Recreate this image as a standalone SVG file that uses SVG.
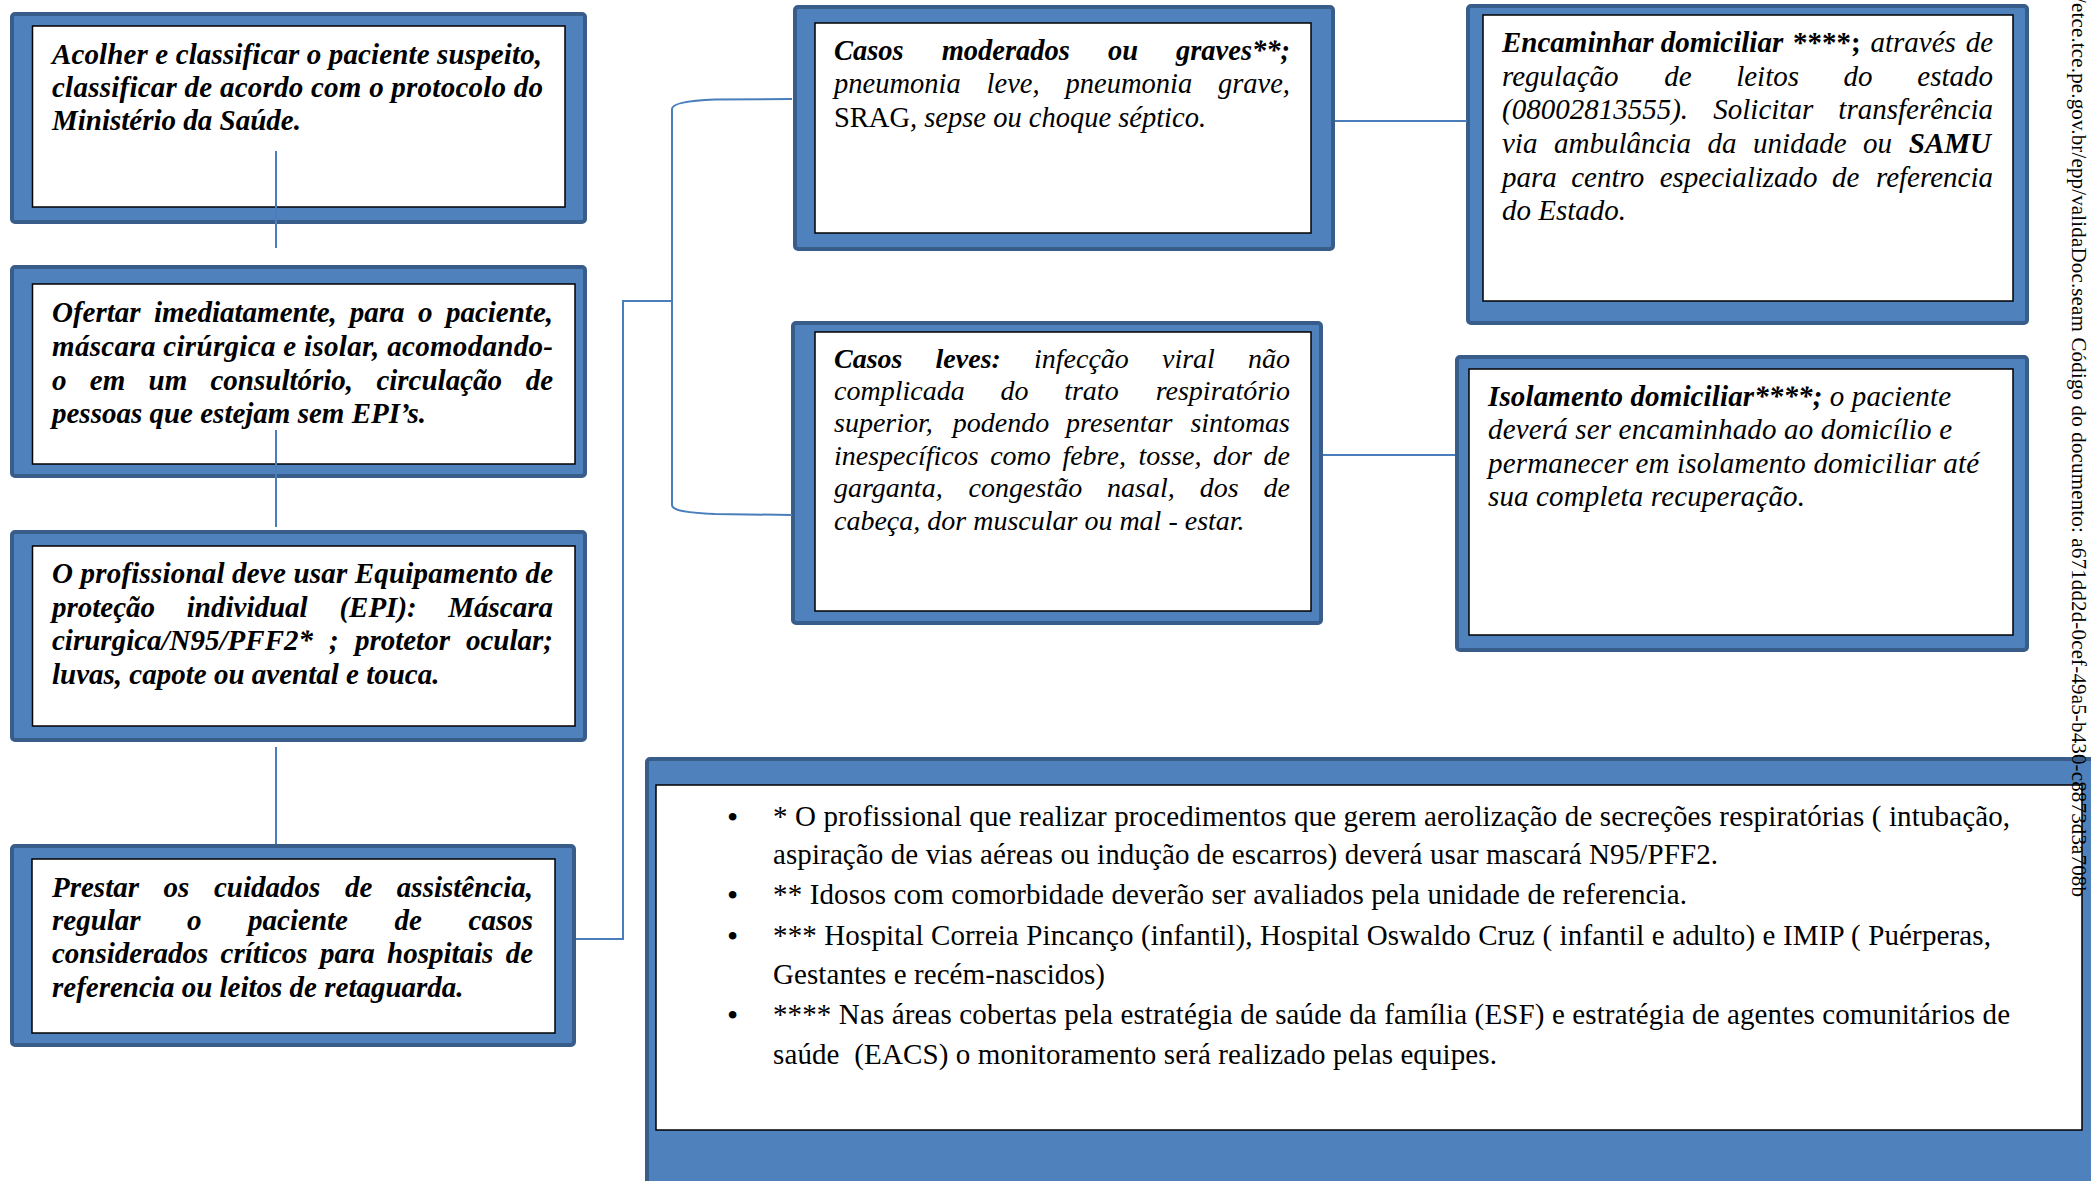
<svg xmlns="http://www.w3.org/2000/svg" width="2091" height="1181" viewBox="0 0 2091 1181">
<style>
.outer{fill:#4F81BD;stroke:#385D8A;stroke-width:4}
.inner{fill:#ffffff;stroke:#000000;stroke-width:1.5}
.conn{fill:none;stroke:#4A7EBB;stroke-width:2}
text{font-family:"Liberation Serif","Times New Roman",serif;fill:#000}
.bi{font-weight:bold;font-style:italic;font-size:29px}
.it{font-style:italic}
.f285{font-size:28.5px}
.f28{font-size:28px}
.f29{font-size:29px}
.rb{font-weight:bold;font-style:italic}
.bu{font-weight:bold;font-style:normal}
.foot{font-size:29px}
.bul{font-size:32px}
.wm{font-size:21px}
</style>
<rect width="2091" height="1181" fill="#ffffff"/>

<g id="box1">
<rect class="outer" x="12" y="14" width="573" height="208" rx="3"/>
<rect class="inner" x="32.5" y="26" width="532.5" height="181"/>
<text class="bi" x="52" y="64" textLength="490" lengthAdjust="spacing">Acolher e classificar o paciente suspeito,</text>
<text class="bi" x="52" y="97" textLength="491" lengthAdjust="spacing">classificar de acordo com o protocolo do</text>
<text class="bi" x="52" y="130">Ministério da Saúde.</text>
</g>

<g id="box2">
<rect class="outer" x="12" y="267" width="573" height="209" rx="3"/>
<rect class="inner" x="32.5" y="284" width="542.5" height="180"/>
<text class="bi" y="322"><tspan x="52">Ofertar</tspan><tspan x="154">imediatamente,</tspan><tspan x="349.7">para</tspan><tspan x="417.9">o</tspan><tspan x="553" text-anchor="end">paciente,</tspan></text>
<text class="bi" x="52" y="356" textLength="501" lengthAdjust="spacing">máscara cirúrgica e isolar, acomodando-</text>
<text class="bi" y="390"><tspan x="52">o</tspan><tspan x="89.8">em</tspan><tspan x="148.5">um</tspan><tspan x="210.5">consultório,</tspan><tspan x="376.4">circulação</tspan><tspan x="553" text-anchor="end">de</tspan></text>
<text class="bi" x="52" y="423">pessoas que estejam sem EPI’s.</text>
</g>

<g id="box3">
<rect class="outer" x="12" y="532" width="573" height="208" rx="3"/>
<rect class="inner" x="32.5" y="546" width="542.5" height="180"/>
<text class="bi" x="52" y="583" textLength="501" lengthAdjust="spacing">O profissional deve usar Equipamento de</text>
<text class="bi" y="617"><tspan x="52">proteção</tspan><tspan x="186.8">individual</tspan><tspan x="339.4">(EPI):</tspan><tspan x="553" text-anchor="end">Máscara</tspan></text>
<text class="bi" y="650"><tspan x="52">cirurgica/N95/PFF2*</tspan><tspan x="329.1">;</tspan><tspan x="354.9">protetor</tspan><tspan x="553" text-anchor="end">ocular;</tspan></text>
<text class="bi" x="52" y="684">luvas, capote ou avental e touca.</text>
</g>

<g id="box4">
<rect class="outer" x="12" y="846" width="562" height="199" rx="3"/>
<rect class="inner" x="32" y="859" width="523" height="174"/>
<text class="bi" y="897"><tspan x="52">Prestar</tspan><tspan x="163.6">os</tspan><tspan x="214">cuidados</tspan><tspan x="344.9">de</tspan><tspan x="533" text-anchor="end">assistência,</tspan></text>
<text class="bi" y="930"><tspan x="52">regular</tspan><tspan x="187.1">o</tspan><tspan x="248.1">paciente</tspan><tspan x="394.5">de</tspan><tspan x="533" text-anchor="end">casos</tspan></text>
<text class="bi" y="963"><tspan x="52">considerados</tspan><tspan x="220.6">críticos</tspan><tspan x="319.9">para</tspan><tspan x="387">hospitais</tspan><tspan x="533" text-anchor="end">de</tspan></text>
<text class="bi" x="52" y="997">referencia ou leitos de retaguarda.</text>
</g>

<g id="box-moderados">
<rect class="outer" x="795" y="7" width="538" height="242" rx="3"/>
<rect class="inner" x="815" y="23" width="496" height="210"/>
<text class="rb f285" y="60"><tspan x="834">Casos</tspan><tspan x="941.7">moderados</tspan><tspan x="1108">ou</tspan><tspan x="1290" text-anchor="end">graves**;</tspan></text>
<text class="it f285" y="93"><tspan x="834">pneumonia</tspan><tspan x="986.6">leve,</tspan><tspan x="1065.5">pneumonia</tspan><tspan x="1290" text-anchor="end">grave,</tspan></text>
<text class="it f285" x="834" y="127"><tspan font-style="normal">SRAG</tspan>, sepse ou choque séptico.</text>
</g>

<g id="box-leves">
<rect class="outer" x="793" y="323" width="528" height="300" rx="3"/>
<rect class="inner" x="815" y="332" width="496" height="279"/>
<text class="it f28" y="368"><tspan x="834" class="rb">Casos</tspan><tspan x="935.6" class="rb">leves:</tspan><tspan x="1034">infecção</tspan><tspan x="1162">viral</tspan><tspan x="1290" text-anchor="end">não</tspan></text>
<text class="it f28" y="400"><tspan x="834">complicada</tspan><tspan x="1000.4">do</tspan><tspan x="1064.2">trato</tspan><tspan x="1290" text-anchor="end">respiratório</tspan></text>
<text class="it f28" y="432"><tspan x="834">superior,</tspan><tspan x="952.8">podendo</tspan><tspan x="1066.1">presentar</tspan><tspan x="1290" text-anchor="end">sintomas</tspan></text>
<text class="it f28" y="465"><tspan x="834">inespecíficos</tspan><tspan x="990.2">como</tspan><tspan x="1062.4">febre,</tspan><tspan x="1138.5">tosse,</tspan><tspan x="1213.1">dor</tspan><tspan x="1290" text-anchor="end">de</tspan></text>
<text class="it f28" y="497"><tspan x="834">garganta,</tspan><tspan x="968.6">congestão</tspan><tspan x="1107.1">nasal,</tspan><tspan x="1199.7">dos</tspan><tspan x="1290" text-anchor="end">de</tspan></text>
<text class="it f28" x="834" y="530">cabeça, dor muscular ou mal - estar.</text>
</g>

<g id="box-encaminhar">
<rect class="outer" x="1468" y="6" width="559" height="317" rx="3"/>
<rect class="inner" x="1483" y="15" width="530" height="286"/>
<text class="it f29" y="52"><tspan x="1502" class="rb">Encaminhar domiciliar</tspan><tspan x="1793" class="bu">****;</tspan><tspan x="1870.5">através</tspan><tspan x="1993" text-anchor="end">de</tspan></text>
<text class="it f29" y="86"><tspan x="1502">regulação</tspan><tspan x="1664.2">de</tspan><tspan x="1736.2">leitos</tspan><tspan x="1843.6">do</tspan><tspan x="1993" text-anchor="end">estado</tspan></text>
<text class="it f29" y="119"><tspan x="1502">(08002813555).</tspan><tspan x="1713.3">Solicitar</tspan><tspan x="1993" text-anchor="end">transferência</tspan></text>
<text class="it f29" y="153"><tspan x="1502">via</tspan><tspan x="1554">ambulância</tspan><tspan x="1707.5">da</tspan><tspan x="1753.1">unidade</tspan><tspan x="1863.1">ou</tspan><tspan x="1991" text-anchor="end" class="rb">SAMU</tspan></text>
<text class="it f29" y="187"><tspan x="1502">para</tspan><tspan x="1571.2">centro</tspan><tspan x="1659.7">especializado</tspan><tspan x="1832">de</tspan><tspan x="1993" text-anchor="end">referencia</tspan></text>
<text class="it f29" x="1502" y="220">do Estado.</text>
</g>

<g id="box-isolamento">
<rect class="outer" x="1457" y="357" width="570" height="293" rx="3"/>
<rect class="inner" x="1469" y="369" width="544" height="266"/>
<text class="it f29" x="1488" y="406" textLength="463" lengthAdjust="spacing"><tspan class="rb">Isolamento domiciliar****;</tspan> o paciente</text>
<text class="it f29" x="1488" y="439" textLength="464" lengthAdjust="spacing">deverá ser encaminhado ao domicílio e</text>
<text class="it f29" x="1488" y="473" textLength="491" lengthAdjust="spacing">permanecer em isolamento domiciliar até</text>
<text class="it f29" x="1488" y="506" textLength="317" lengthAdjust="spacing">sua completa recuperação.</text>
</g>

<g id="notes">
<rect class="outer" x="647" y="759" width="1460" height="440" rx="3"/>
<rect class="inner" x="656" y="785" width="1426" height="345"/>
<text class="bul" x="727" y="828">•</text>
<text class="foot" x="773" y="826" textLength="1237" lengthAdjust="spacing">* O profissional que realizar procedimentos que gerem aerolização de secreções respiratórias ( intubação,</text>
<text class="foot" x="773" y="864" textLength="945" lengthAdjust="spacing">aspiração de vias aéreas ou indução de escarros) deverá usar mascará N95/PFF2.</text>
<text class="bul" x="727" y="906">•</text>
<text class="foot" x="773" y="904" textLength="914" lengthAdjust="spacing">** Idosos com comorbidade deverão ser avaliados pela unidade de referencia.</text>
<text class="bul" x="727" y="947">•</text>
<text class="foot" x="773" y="945" textLength="1218" lengthAdjust="spacing">*** Hospital Correia Pincanço (infantil), Hospital Oswaldo Cruz ( infantil e adulto) e IMIP ( Puérperas,</text>
<text class="foot" x="773" y="984" textLength="332" lengthAdjust="spacing">Gestantes e recém-nascidos)</text>
<text class="bul" x="727" y="1026">•</text>
<text class="foot" x="773" y="1024" textLength="1237" lengthAdjust="spacing">**** Nas áreas cobertas pela estratégia de saúde da família (ESF) e estratégia de agentes comunitários de</text>
<text class="foot" x="773" y="1064" textLength="724" lengthAdjust="spacing" xml:space="preserve">saúde  (EACS) o monitoramento será realizado pelas equipes.</text>
</g>

<g id="connectors">
<path class="conn" d="M276 151V248"/>
<path class="conn" d="M276 430V527"/>
<path class="conn" d="M276 747V844"/>
<path class="conn" d="M576 939H623V301H672"/>
<path class="conn" d="M792 99L715 99.5C690 100.5 672 103 672 109V505C672 511 690 513 715 514L792 515"/>
<path class="conn" d="M1335 121H1467"/>
<path class="conn" d="M1323 455H1455"/>
</g>

<g id="watermark">
<text class="wm" transform="translate(2072,-3) rotate(90)" textLength="900" lengthAdjust="spacing">/etce.tce.pe.gov.br/epp/validaDoc.seam Código do documento: a671dd2d-0cef-49a5-b430-c8873d3a708b</text>
</g>
</svg>
